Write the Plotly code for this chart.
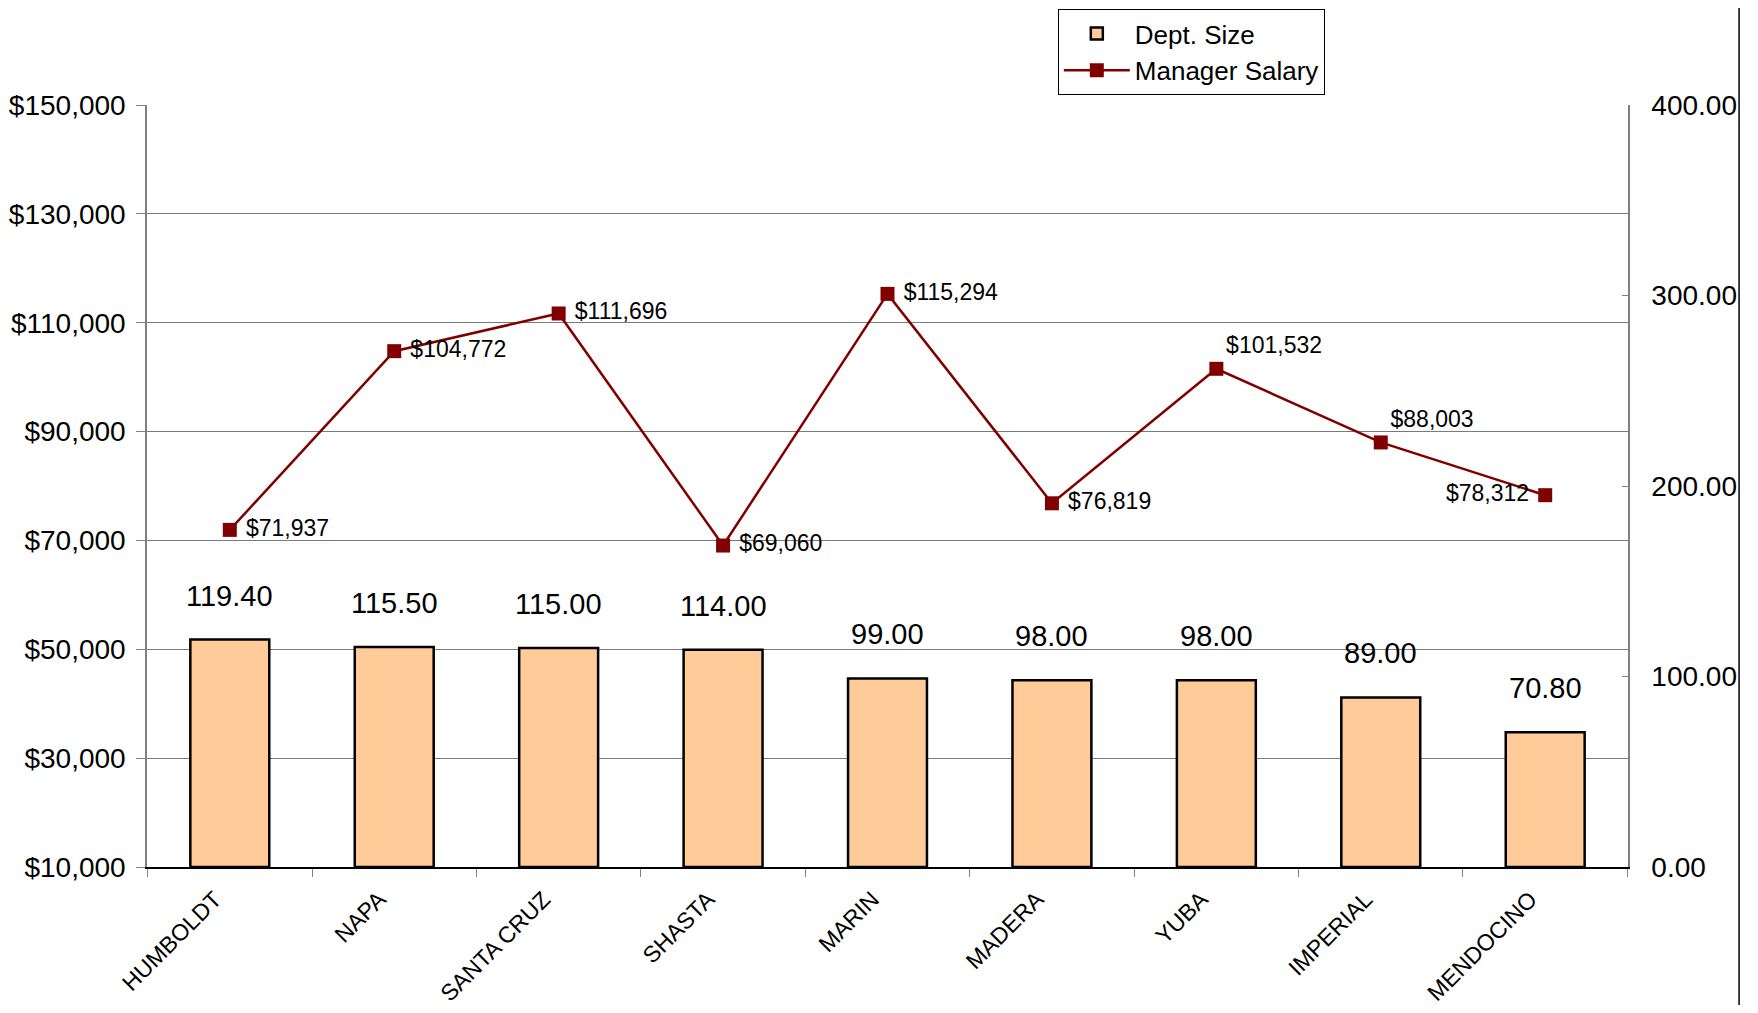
import plotly.graph_objects as go

counties = ["HUMBOLDT", "NAPA", "SANTA CRUZ", "SHASTA", "MARIN", "MADERA", "YUBA", "IMPERIAL", "MENDOCINO"]
dept_size = [119.40, 115.50, 115.00, 114.00, 99.00, 98.00, 98.00, 89.00, 70.80]
manager_salary = [71937, 104772, 111696, 69060, 115294, 76819, 101532, 88003, 78312]
salary_label_pos = ["middle right", "middle right", "middle right", "middle right", "middle right",
                    "middle right", "top right", "top right", "middle left"]

FONT = "Liberation Sans, Arial, sans-serif"


def salary_text(v, pos):
    s = f"${v:,.0f}"
    if pos == "middle right":
        return " " + s
    if pos == "middle left":
        return s + " "
    return s


fig = go.Figure()
fig.add_trace(go.Bar(
    x=counties, y=dept_size, name="Dept. Size", yaxis="y2",
    marker=dict(color="#FFCC99", line=dict(color="black", width=2.5)),
    width=0.48, legendgroup="a",
))
fig.add_trace(go.Scatter(
    x=counties, y=manager_salary, name="Manager Salary", yaxis="y",
    mode="lines+markers+text", legendgroup="b",
    line=dict(color="#800000", width=2.5),
    marker=dict(symbol="square", size=14, color="#800000"),
    text=[salary_text(v, p) for v, p in zip(manager_salary, salary_label_pos)],
    textposition=salary_label_pos,
    textfont=dict(size=23, color="black", family=FONT),
))

for c, v in zip(counties, dept_size):
    fig.add_annotation(x=c, y=v, xref="x", yref="y2", text=f"{v:.2f}",
                       showarrow=False, yanchor="bottom", yshift=26,
                       font=dict(size=29, color="black", family=FONT))

fig.add_shape(type="line", xref="paper", yref="paper", x0=1.075, x1=1.075, y0=-0.2, y1=1.15,
              line=dict(color="black", width=1.5))

fig.update_layout(
    width=1742, height=997,
    margin=dict(l=139, r=122, t=97, b=138, autoexpand=False),
    paper_bgcolor="white", plot_bgcolor="white",
    font=dict(family=FONT, size=26, color="black"),
    showlegend=True,
    legend=dict(x=0.615, y=1.126, xanchor="left", yanchor="top",
                bordercolor="black", borderwidth=1, bgcolor="white",
                itemwidth=66, tracegroupgap=4,
                font=dict(size=26, family=FONT), traceorder="normal"),
    xaxis=dict(type="category", showline=True, linecolor="black", linewidth=1.5,
               ticks="outside", tickson="boundaries", ticklen=8, tickcolor="#808080",
               tickangle=-45, tickfont=dict(size=23), showgrid=False,
               ticklabelshift=-15, ticklabelstandoff=8, automargin=False),
    yaxis=dict(range=[10000, 150000], tick0=10000, dtick=20000, tickformat="$,.0f",
               showline=True, linecolor="#808080", linewidth=1.5,
               ticks="outside", ticklen=9, tickcolor="#808080",
               showgrid=True, gridcolor="#7a7a7a", gridwidth=1,
               zeroline=False, tickfont=dict(size=28), ticklabelstandoff=5,
               automargin=False),
    yaxis2=dict(range=[0, 400], dtick=100, tickformat=".2f", overlaying="y", side="right",
                showline=True, linecolor="#808080", linewidth=1.5,
                ticks="inside", ticklen=6, tickcolor="#808080",
                showgrid=False, zeroline=False, tickfont=dict(size=28),
                ticklabelstandoff=16, automargin=False),
)

fig.write_html("out.html")
